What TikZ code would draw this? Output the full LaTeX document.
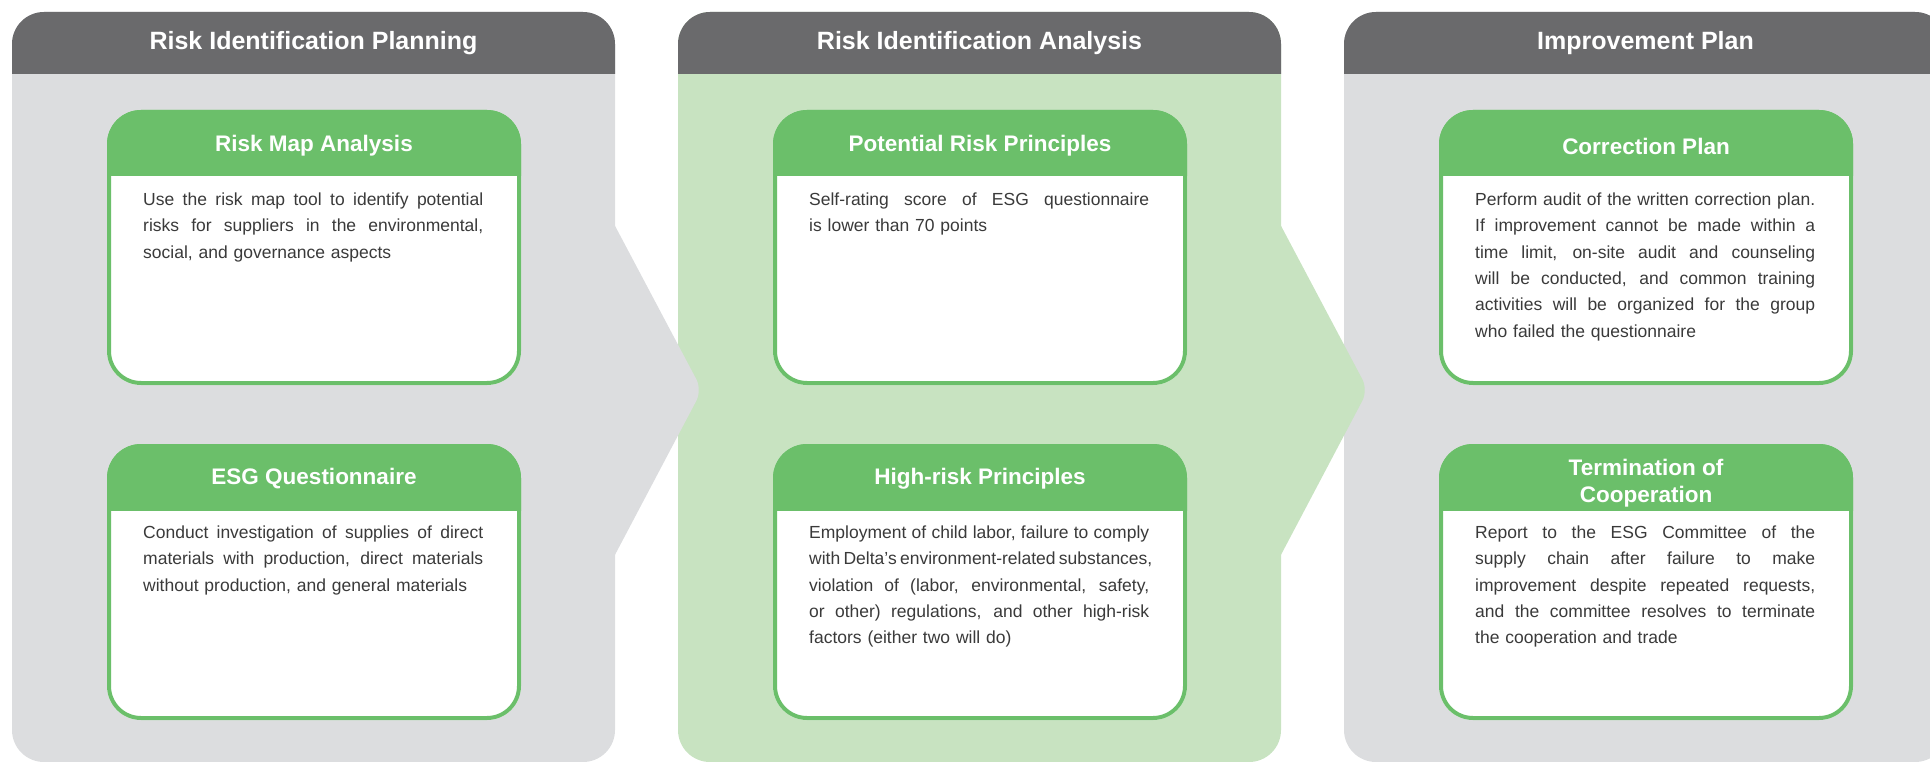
\documentclass[tikz,border=0pt]{standalone}
\usepackage{fontspec}
\setmainfont{Liberation Sans}
\definecolor{hdrgray}{RGB}{106,106,108}
\definecolor{lightgray}{RGB}{220,221,223}
\definecolor{lightgreen}{RGB}{200,227,193}
\definecolor{boxgreen}{RGB}{107,191,106}
\definecolor{txtgray}{RGB}{58,58,58}
\newcommand{\mypanel}[2]{%
  \fill[#2, rounded corners=32pt] (#1,12) rectangle ++(603,750);
  \begin{scope}
    \clip (#1,12) rectangle ++(603,62);
    \fill[hdrgray, rounded corners=32pt] (#1,12) rectangle ++(603,750);
  \end{scope}}
\newcommand{\myarrow}[2]{%
  \fill[#2, rounded corners=12pt] (#1-55,122) -- (#1+87,390) -- (#1-55,659) -- cycle;}
\newcommand{\ibox}[3]{%
  \fill[white, rounded corners=34pt] (#1,#2) rectangle (#1+414,#3);
  \begin{scope}
    \clip (#1,#2) rectangle (#1+414,#2+66);
    \fill[boxgreen, rounded corners=34pt] (#1,#2) rectangle (#1+414,#3);
  \end{scope}
  \draw[boxgreen, line width=4pt, rounded corners=32pt] (#1+2,#2+2) rectangle (#1+412,#3-2);}
\newcommand{\jl}[1]{\makebox[340pt][s]{\spaceskip=0.278em plus 2em minus 0.09em\xspaceskip=\spaceskip #1}\\}
\tikzset{
  colhead/.style={text=white, font=\fontsize{25}{30}\selectfont\bfseries, inner sep=0pt},
  boxtitle/.style={text=white, font=\fontsize{22.5}{27}\selectfont\bfseries, align=center, inner sep=0pt},
  boxbody/.style={text=txtgray, font=\fontsize{17.5}{26.3}\selectfont, text width=340pt, align=left, anchor=north west, inner sep=0pt},
}
\begin{document}
\begin{tikzpicture}[x=1pt,y=-1pt]
\useasboundingbox (0,0) rectangle (1930,762);
\clip (0,0) rectangle (1930,762);
% panels
\mypanel{1344}{lightgray}
\mypanel{678}{lightgreen}
\myarrow{1281}{lightgreen}
\mypanel{12}{lightgray}
\myarrow{615}{lightgray}
% column headers
\node[colhead] (h1) at (313.5,43) {Risk Identification Planning};
\node[colhead] (h2) at (979.5,43) {Risk Identification Analysis};
\node[colhead] (h3) at (1645.5,43) {Improvement Plan};
% inner boxes
\ibox{107}{110}{385}
\ibox{107}{444}{720}
\ibox{773}{110}{385}
\ibox{773}{444}{720}
\ibox{1439}{110}{385}
\ibox{1439}{444}{720}
% titles
\node[boxtitle] (t1) at (314,146) {Risk Map Analysis};
\node[boxtitle] (t2) at (314,479) {ESG Questionnaire};
\node[boxtitle] (t3) at (980,146) {Potential Risk Principles};
\node[boxtitle] (t4) at (980,479) {High-risk Principles};
\node[boxtitle] (t5) at (1646,146) {Correction Plan};
\node[boxtitle] (t6) at (1646,483) {Termination of\\Cooperation};
% bodies
\node[boxbody] (b1) at (143,187) {\strut\jl{Use the risk map tool to identify potential}\jl{risks for suppliers in the environmental,}social, and governance aspects};
\node[boxbody] (b2) at (143,520) {\strut\jl{Conduct investigation of supplies of direct}\jl{materials with production, direct materials}without production, and general materials};
\node[boxbody] (b3) at (809,187) {\strut\jl{Self-rating score of ESG questionnaire}is lower than 70 points};
\node[boxbody] (b4) at (809,520) {\strut\jl{Employment of child labor, failure to comply}\jl{with Delta’s environment-related substances,}\jl{violation of (labor, environmental, safety,}\jl{or other) regulations, and other high-risk}factors (either two will do)};
\node[boxbody] (b5) at (1475,187) {\strut\jl{Perform audit of the written correction plan.}\jl{If improvement cannot be made within a}\jl{time limit, on-site audit and counseling}\jl{will be conducted, and common training}\jl{activities will be organized for the group}who failed the questionnaire};
\node[boxbody] (b6) at (1475,520) {\strut\jl{Report to the ESG Committee of the}\jl{supply chain after failure to make}\jl{improvement despite repeated requests,}\jl{and the committee resolves to terminate}the cooperation and trade};
\end{tikzpicture}
\end{document}
